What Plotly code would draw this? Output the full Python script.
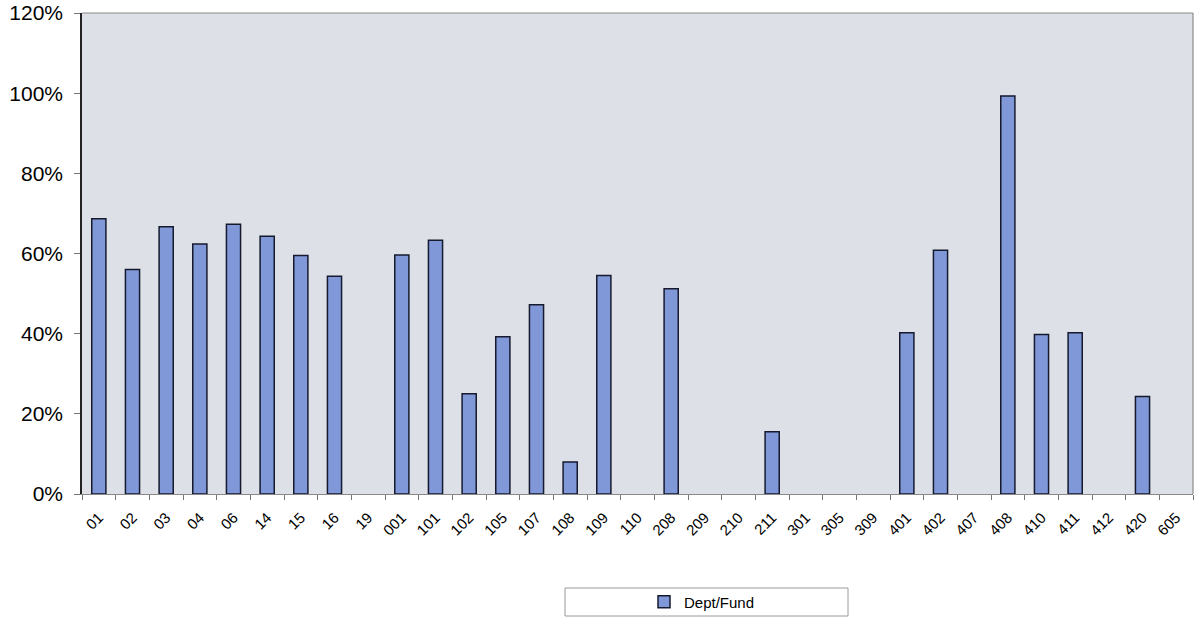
import plotly.graph_objects as go

categories = ["01", "02", "03", "04", "06", "14", "15", "16", "19", "001", "101", "102",
              "105", "107", "108", "109", "110", "208", "209", "210", "211", "301", "305",
              "309", "401", "402", "407", "408", "410", "411", "412", "420", "605"]
values = [0.687, 0.560, 0.667, 0.624, 0.673, 0.643, 0.595, 0.543, 0.0, 0.596, 0.633, 0.250,
          0.392, 0.472, 0.080, 0.545, 0.0, 0.512, 0.0, 0.0, 0.155, 0.0, 0.0,
          0.0, 0.402, 0.608, 0.0, 0.993, 0.398, 0.402, 0.0, 0.243, 0.0]
series_name = "Dept/Fund"
y_ticks = [0, 0.2, 0.4, 0.6, 0.8, 1.0, 1.2]
y_tick_labels = ["0%", "20%", "40%", "60%", "80%", "100%", "120%"]

# no outline on empty (zero) bars
line_widths = [1.5 if v > 0 else 0 for v in values]

# page body margin is removed below, so figure coords == screen coords
W, H = 1196, 617
L, R, T, B = 82, 1193, 13, 494
pw, ph = R - L, B - T

def px(x):
    return (x - L) / pw

def py(y):
    return (B - y) / ph

fig = go.Figure()
fig.add_trace(go.Bar(
    x=categories, y=values, name=series_name,
    marker=dict(color="#8097d8", line=dict(color="#151a2e", width=line_widths)),
    showlegend=True,
))

fig.update_layout(
    width=W, height=H,
    margin=dict(l=L, r=W - R, t=T, b=H - B, autoexpand=False),
    paper_bgcolor="white",
    plot_bgcolor="#dde0e7",
    bargap=0.58,
    font=dict(family="Liberation Sans, Arial, sans-serif", color="black"),
    showlegend=True,
    legend=dict(
        orientation="h", x=px(702), xanchor="center", y=py(602), yanchor="middle",
        font=dict(size=15), bgcolor="rgba(0,0,0,0)", itemwidth=30,
    ),
    shapes=[
        dict(type="rect", xref="paper", yref="paper",
             x0=px(565), x1=px(848), y0=py(588), y1=py(616),
             line=dict(color="#9a9a9a", width=1), fillcolor="white", layer="below"),
        dict(type="line", xref="paper", yref="paper", x0=0, x1=1, y0=1, y1=1,
             line=dict(color="#8a8a8a", width=1.2)),
        dict(type="line", xref="paper", yref="paper", x0=1, x1=1, y0=0, y1=1,
             line=dict(color="#8a8a8a", width=1.2)),
    ],
)

fig.update_xaxes(
    type="category", tickson="boundaries", ticks="outside", ticklen=5,
    tickcolor="#777777", showline=True, linecolor="#888888", linewidth=1,
    tickangle=-45, tickfont=dict(size=15), showgrid=False, automargin=False,
    ticklabelstandoff=8,
)
fig.update_yaxes(
    range=[0, 1.2], tickvals=y_ticks, ticktext=y_tick_labels,
    ticks="outside", ticklen=6, tickcolor="#777777",
    showline=True, linecolor="#222222", linewidth=1.5,
    tickfont=dict(size=21), showgrid=False, zeroline=False, automargin=False,
    ticklabelstandoff=7, ticklabeloverflow="allow",
)

fig.write_html("out.html",
               config={"displayModeBar": False},
               post_script="document.body.style.margin='0px';document.body.style.overflow='hidden';")
